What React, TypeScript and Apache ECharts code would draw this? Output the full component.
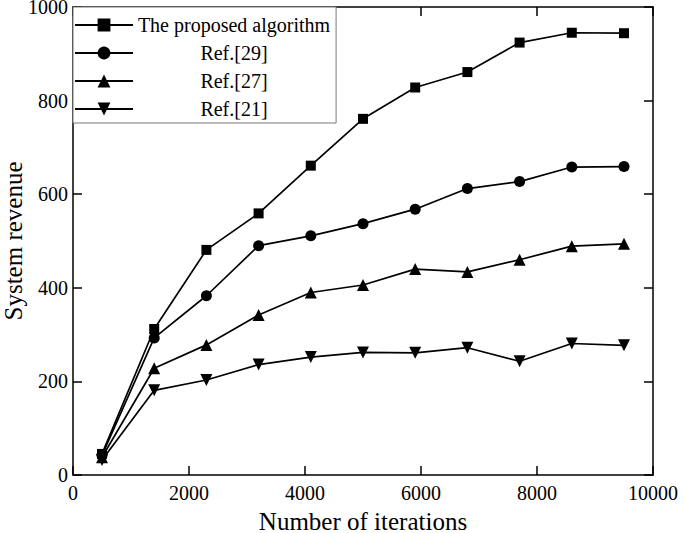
import React, { useEffect, useRef } from "react";
import * as echarts from "echarts";

const iterations = [500, 1400, 2300, 3200, 4100, 5000, 5900, 6800, 7700, 8600, 9500];
const proposed = [45, 312, 481, 559, 661, 761, 828, 861, 924, 945, 944];
const ref29 = [42, 293, 383, 490, 511, 537, 568, 612, 627, 658, 659];
const ref27 = [38, 228, 278, 342, 390, 406, 440, 434, 460, 489, 494];
const ref21 = [32, 181, 203, 236, 252, 262, 261, 272, 243, 281, 277];

const seriesNames = ["The proposed algorithm", "Ref.[29]", "Ref.[27]", "Ref.[21]"];
const xTicks = [0, 2000, 4000, 6000, 8000, 10000];
const yTicks = [0, 200, 400, 600, 800, 1000];

const FONT = "'Liberation Serif', 'Times New Roman', serif";

export default function App() {
  const ref = useRef<HTMLDivElement>(null);
  useEffect(() => {
    if (!ref.current) return;
    const chart = echarts.init(ref.current, undefined, { renderer: "svg" });
    const mk = (vals: number[]) => iterations.map((x, i) => [x, vals[i]]);
    const symbols = ["rect", "circle", "triangle", "path://M0,0 L10,0 L5,9 Z"];
    const sizes = [10, 11, 12, 12];
    const allData = [proposed, ref29, ref27, ref21];
    const axisCommon = {
      axisLine: { show: true, onZero: false, lineStyle: { color: "#000", width: 1.5 } },
      axisTick: { show: true, inside: true, length: 9, lineStyle: { color: "#000", width: 1.5 } },
      splitLine: { show: false },
    };
    chart.setOption({
      animation: false,
      backgroundColor: "#fff",
      grid: { left: 73, right: 32, top: 7, bottom: 58, containLabel: false, outerBoundsMode: "none" },
      legend: {
        data: seriesNames,
        orient: "vertical",
        left: 73,
        top: 7,
        padding: [8, 6, 4, 1],
        itemWidth: 58,
        itemHeight: 16,
        itemGap: 8,
        borderColor: "#777",
        borderWidth: 1,
        backgroundColor: "#fff",
        formatter: (name: string) => `{t|${name}}`,
        textStyle: {
          color: "#000",
          fontFamily: FONT,
          fontSize: 20,
          rich: {
            t: { width: 192, align: "center", fontFamily: FONT, fontSize: 20, color: "#000", lineHeight: 22 },
          },
        },
      },
      xAxis: [
        {
          type: "value",
          min: 0,
          max: 10000,
          interval: 2000,
          name: "Number of iterations",
          nameLocation: "middle",
          nameGap: 35,
          nameMoveOverlap: false,
          nameTextStyle: { fontFamily: FONT, fontSize: 25, color: "#000", lineHeight: 22 },
          axisLabel: {
            fontFamily: FONT,
            fontSize: 20,
            color: "#000",
            margin: 8,
            formatter: (v: number) => (xTicks.includes(v) ? String(v) : ""),
          },
          ...axisCommon,
        },
        {
          type: "value",
          position: "top",
          min: 0,
          max: 10000,
          interval: 2000,
          axisLabel: { show: false },
          ...axisCommon,
        },
      ],
      yAxis: [
        {
          type: "value",
          min: 0,
          max: 1000,
          interval: 200,
          name: "System revenue",
          nameLocation: "middle",
          nameGap: 49,
          nameMoveOverlap: false,
          nameTextStyle: { fontFamily: FONT, fontSize: 25, color: "#000", lineHeight: 22 },
          axisLabel: {
            fontFamily: FONT,
            fontSize: 20,
            color: "#000",
            margin: 5,
            lineHeight: 14,
            formatter: (v: number) => (yTicks.includes(v) ? String(v) : ""),
          },
          ...axisCommon,
        },
        {
          type: "value",
          position: "right",
          min: 0,
          max: 1000,
          interval: 200,
          axisLabel: { show: false },
          ...axisCommon,
        },
      ],
      series: seriesNames.map((name, i) => ({
        name,
        type: "line",
        data: mk(allData[i]),
        symbol: symbols[i],
        symbolSize: sizes[i],
        showAllSymbol: true,
        lineStyle: { color: "#000", width: 1.7 },
        itemStyle: { color: "#000", borderWidth: 0 },
        emphasis: { disabled: true },
        z: 3,
      })),
    });
    return () => chart.dispose();
  }, []);
  return <div ref={ref} style={{ width: 685, height: 533, position: "absolute", left: 0, top: 0 }} />;
}
